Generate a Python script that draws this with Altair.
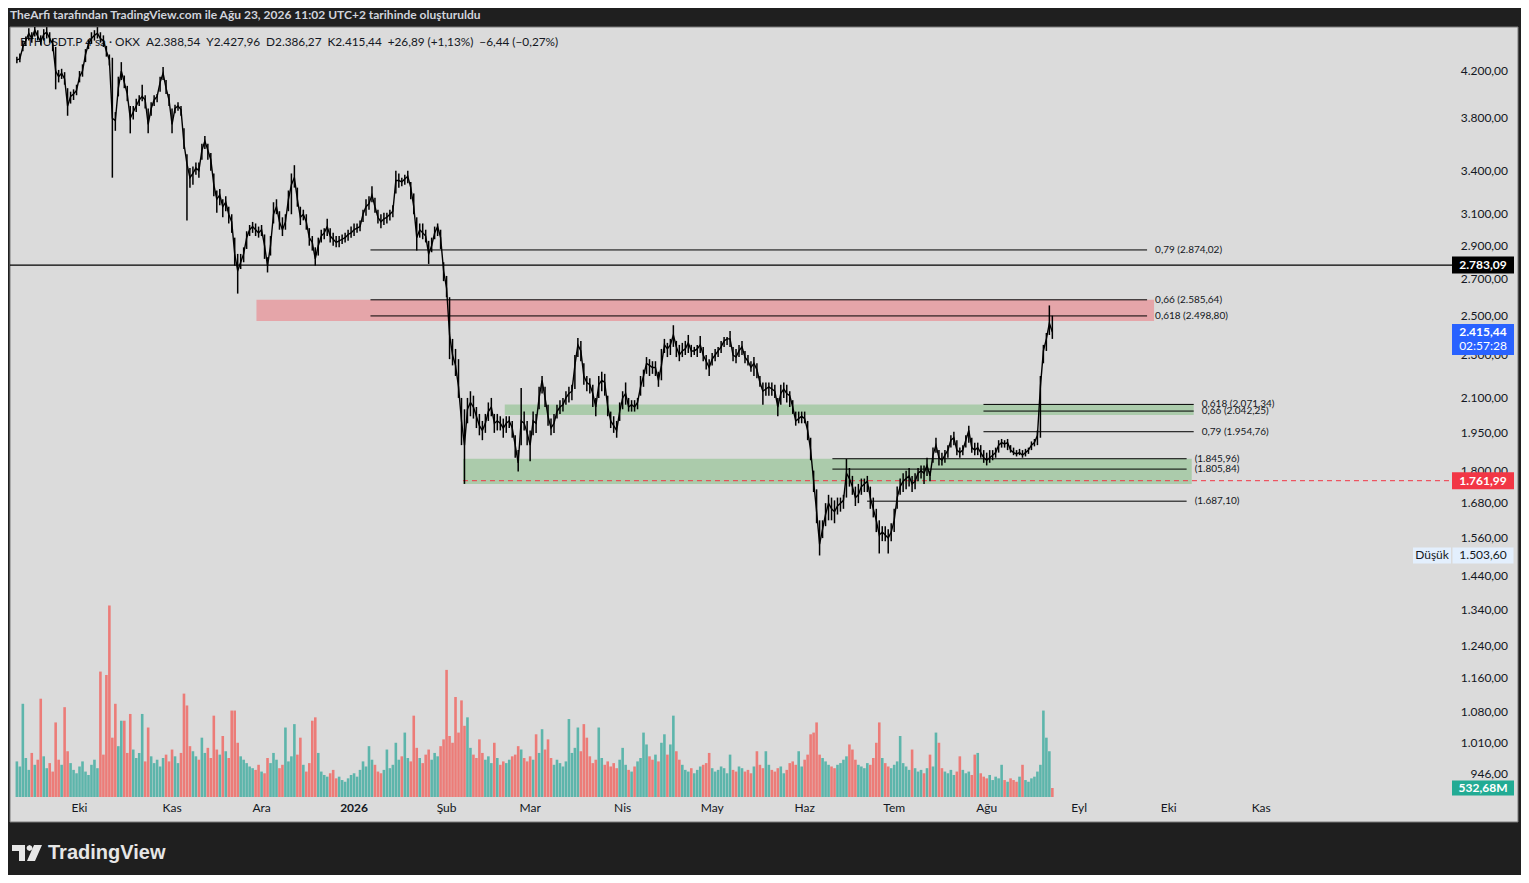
import altair as alt
import pandas as pd

# ---------------- data (daily) ----------------
START = "2025-09-10"

close = [
    4300, 4310, 4420, 4480, 4550, 4500, 4580, 4520, 4470, 4540,
    4560, 4500, 4450, 4200, 4150, 4180, 4130, 3900, 3980, 4000,
    4030, 4150, 4200, 4350, 4450, 4500, 4530, 4550, 4500, 4480,
    4380, 4300, 3800, 3780, 4050, 4200, 4100, 4000, 3800, 3850,
    3900, 3950, 3980, 3950, 3750, 3880, 3950, 3980, 4100, 4180,
    4050, 3950, 3750, 3880, 3900, 3870, 3600, 3450, 3350, 3380,
    3420, 3400, 3550, 3620, 3550, 3480, 3300, 3200, 3230, 3150,
    3180, 3100, 3050, 2850, 2750, 2800, 2850, 2950, 3000, 3020,
    3000, 2980, 3000, 2900, 2780, 2900, 3100, 3150, 3050, 3000,
    3050, 3200, 3300, 3350, 3200, 3080, 3100, 3050, 2950, 2920,
    2820, 2900, 2960, 2980, 3020, 2960, 2940, 2920, 2930, 2940,
    2950, 2970, 2980, 3000, 3010, 3020, 3100, 3150, 3170, 3230,
    3150, 3080, 3050, 3070, 3080, 3100, 3120, 3330, 3330, 3320,
    3340, 3360, 3280, 3150, 2950, 3000, 2980, 2960, 2850, 2900,
    2980, 3020, 2950, 2750, 2650, 2400, 2300, 2250, 2150, 2000,
    1900, 2050, 2080, 2060, 2020, 1980, 1960, 1990, 2040, 2060,
    1990, 2000, 1990, 1970, 1990, 2000, 1970, 1900, 1830, 2000,
    1990, 1950, 1900, 2000, 1990, 2100, 2180, 2100, 2020, 1970,
    1990, 2040, 2060, 2070, 2100, 2120, 2130, 2250, 2350, 2320,
    2200, 2170, 2160, 2120, 2060, 2160, 2180, 2170, 2060, 2000,
    1980, 1960, 2040, 2100, 2120, 2060, 2070, 2060, 2080, 2150,
    2200, 2260, 2250, 2240, 2240, 2180, 2250, 2350, 2330, 2350,
    2400, 2340, 2300, 2320, 2330, 2360, 2320, 2320, 2330, 2350,
    2300, 2270, 2240, 2280, 2300, 2320, 2340, 2370, 2380, 2380,
    2300, 2290, 2320, 2340, 2290, 2270, 2240, 2260, 2230, 2170,
    2130, 2140, 2150, 2140, 2130, 2060, 2120, 2140, 2120, 2110,
    2060, 2000, 2010, 2020, 2010, 1960, 1880, 1760, 1650, 1540,
    1590, 1640, 1680, 1660, 1650, 1670, 1680, 1690, 1790, 1770,
    1740, 1700, 1710, 1740, 1750, 1760, 1700, 1660, 1620, 1570,
    1580, 1570, 1560, 1580, 1620, 1700, 1740, 1760, 1770, 1780,
    1750, 1760, 1790, 1800, 1790, 1820, 1780, 1860, 1900, 1850,
    1840, 1860, 1880, 1920, 1930, 1880, 1870, 1880, 1920, 1960,
    1890, 1880, 1890, 1870, 1850, 1840, 1850, 1860, 1870, 1900,
    1910, 1905, 1910, 1880, 1870, 1865, 1870, 1860, 1870, 1880,
    1900, 1910, 1940, 2150, 2320, 2380, 2460, 2415.44,
]

high = [
    4330, 4360, 4480, 4520, 4600, 4560, 4610, 4580, 4530, 4590,
    4610, 4560, 4500, 4420, 4210, 4220, 4190, 4050, 4020, 4040,
    4080, 4200, 4260, 4400, 4490, 4560, 4580, 4610, 4560, 4530,
    4430, 4350, 4320, 3850, 4150, 4280, 4160, 4070, 3900, 3900,
    3960, 3990, 4080, 3990, 3880, 3930, 3990, 4000, 4150, 4235,
    4120, 4000, 3880, 3910, 3930, 3900, 3720, 3520, 3420, 3430,
    3460, 3460, 3600, 3660, 3600, 3530, 3380, 3260, 3270, 3200,
    3220, 3150, 3100, 2950, 2850, 2850, 2890, 2990, 3030, 3050,
    3040, 3020, 3030, 2970, 2830, 2960, 3180, 3200, 3120, 3080,
    3100, 3260, 3380, 3440, 3280, 3150, 3130, 3100, 3010, 2960,
    2890, 2950, 3000, 3010, 3070, 3010, 2980, 2960, 2960, 2970,
    2980, 3000, 3020, 3040, 3040, 3060, 3130, 3200, 3220, 3290,
    3210, 3130, 3100, 3110, 3110, 3130, 3160, 3400, 3380, 3350,
    3370, 3400, 3320, 3240, 3080, 3040, 3040, 3000, 2930, 2950,
    3020, 3040, 3000, 2800, 2720, 2600, 2380, 2330, 2280, 2100,
    2050, 2100, 2130, 2110, 2060, 2030, 2000, 2030, 2080, 2100,
    2030, 2030, 2020, 2010, 2020, 2020, 2000, 1940, 1880, 2145,
    2040, 2000, 1960, 2040, 2030, 2150, 2200, 2150, 2070, 2010,
    2030, 2070, 2090, 2100, 2130, 2150, 2160, 2300, 2385, 2370,
    2260, 2200, 2190, 2160, 2100, 2200, 2220, 2210, 2110, 2040,
    2020, 2000, 2080, 2130, 2170, 2100, 2090, 2090, 2100, 2200,
    2230, 2290, 2280, 2270, 2270, 2220, 2330, 2380, 2360, 2380,
    2450, 2370, 2350, 2360, 2370, 2400, 2350, 2340, 2350, 2395,
    2340, 2300, 2280, 2310, 2330, 2340, 2370, 2390, 2390, 2420,
    2340, 2330, 2350, 2370, 2320, 2300, 2270, 2290, 2260, 2200,
    2170, 2170, 2170, 2170, 2160, 2100, 2160, 2170, 2160, 2130,
    2090, 2040, 2040, 2040, 2040, 2000, 1930, 1800, 1730, 1620,
    1620, 1680, 1710, 1700, 1690, 1700, 1700, 1710, 1845, 1810,
    1780, 1740, 1750, 1770, 1770, 1780, 1740, 1700, 1660, 1620,
    1600, 1600, 1590, 1610, 1660, 1740, 1770, 1790, 1800, 1810,
    1780, 1790, 1810, 1820, 1820, 1850, 1800, 1890, 1930, 1880,
    1870, 1880, 1900, 1940, 1955, 1920, 1890, 1900, 1940, 1980,
    1930, 1910, 1910, 1900, 1880, 1870, 1880, 1880, 1890, 1920,
    1925, 1920, 1925, 1900, 1890, 1880, 1885, 1880, 1885, 1890,
    1915, 1925, 1960, 2200, 2350, 2410, 2555, 2500,
]

low = [
    4270, 4280, 4380, 4430, 4480, 4460, 4520, 4480, 4440, 4480,
    4500, 4460, 4380, 4040, 4100, 4130, 4080, 3820, 3920, 3950,
    3990, 4100, 4150, 4280, 4400, 4450, 4480, 4500, 4460, 4420,
    4330, 4250, 3350, 3700, 3980, 4120, 4050, 3940, 3680, 3790,
    3850, 3900, 3940, 3880, 3680, 3820, 3900, 3930, 4020, 4120,
    4000, 3900, 3680, 3840, 3860, 3820, 3560, 3060, 3280, 3300,
    3370, 3350, 3480, 3560, 3480, 3400, 3220, 3110, 3160, 3080,
    3120, 3040, 2980, 2780, 2620, 2760, 2800, 2880, 2960, 2980,
    2960, 2950, 2960, 2820, 2740, 2840, 3040, 3100, 3000, 2960,
    3000, 3120, 3100, 3280, 3150, 3030, 3060, 3000, 2900, 2870,
    2780, 2840, 2920, 2940, 2960, 2920, 2900, 2890, 2890, 2910,
    2920, 2930, 2950, 2960, 2980, 2990, 3050, 3090, 3130, 3180,
    3110, 3040, 3010, 3030, 3040, 3060, 3080, 3240, 3280, 3290,
    3300, 3310, 3200, 3100, 2870, 2950, 2940, 2920, 2790, 2860,
    2940, 2960, 2880, 2690, 2600, 2280, 2250, 2200, 2100, 1900,
    1750, 1990, 2020, 2010, 1970, 1940, 1920, 1950, 2000, 2020,
    1950, 1960, 1960, 1930, 1950, 1970, 1930, 1850, 1797, 1900,
    1960, 1900, 1836, 1940, 1950, 2050, 2120, 2060, 1980, 1940,
    1950, 2010, 2030, 2040, 2070, 2080, 2090, 2140, 2290, 2270,
    2160, 2130, 2120, 2060, 2020, 2100, 2130, 2110, 2020, 1970,
    1950, 1930, 2000, 2050, 2070, 2040, 2040, 2040, 2050, 2110,
    2150, 2210, 2200, 2210, 2200, 2150, 2180, 2310, 2290, 2300,
    2340, 2290, 2270, 2290, 2300, 2310, 2290, 2300, 2290, 2310,
    2270, 2230, 2200, 2250, 2270, 2290, 2310, 2340, 2350, 2340,
    2270, 2260, 2290, 2300, 2260, 2250, 2220, 2200, 2190, 2150,
    2070, 2110, 2110, 2110, 2100, 2020, 2070, 2100, 2080, 2060,
    2030, 1980, 1990, 1990, 1990, 1920, 1840, 1720, 1610, 1503.6,
    1560, 1600, 1620, 1620, 1610, 1640, 1650, 1660, 1700, 1740,
    1710, 1670, 1680, 1710, 1720, 1720, 1660, 1630, 1580, 1510,
    1550, 1550, 1510, 1550, 1580, 1660, 1710, 1720, 1730, 1740,
    1720, 1730, 1760, 1770, 1750, 1780, 1760, 1830, 1870, 1820,
    1820, 1830, 1850, 1890, 1900, 1860, 1850, 1860, 1890, 1910,
    1870, 1860, 1860, 1850, 1830, 1820, 1830, 1840, 1850, 1870,
    1890, 1890, 1880, 1870, 1860, 1855, 1860, 1850, 1855, 1865,
    1880, 1895, 1900, 1930, 2260, 2320, 2400, 2380,
]

volume = [  # millions USDT
    2100, 1800, 5500, 2300, 1600, 2600, 1900, 2200, 5800, 2400,
    1700, 2000, 1500, 4400, 2200, 1900, 5300, 2700, 2000, 1600,
    1400, 1800, 2100, 1500, 1300, 1900, 2200, 1700, 7400, 2500,
    7200, 11300, 3500, 5500, 3000, 4500, 4500, 2600, 4900, 2800,
    2300, 2600, 4900, 2100, 4100, 2400, 2000, 2200, 1800, 2300,
    2500, 2100, 2800, 2400, 2000, 2600, 6100, 5400, 3000, 2700,
    2400, 2200, 3500, 2600, 2900, 2300, 4800, 2800, 2500, 3600,
    2700, 2300, 5100, 5100, 3200, 2400, 2200, 2000, 1800, 1700,
    1600, 1900, 1500, 1400, 2300, 2000, 2600, 2200, 1700, 1900,
    4100, 2100, 2400, 4300, 2500, 3500, 1900, 1500, 2000, 4500,
    4700, 2600, 1500, 1300, 1200, 1400, 1600, 1100, 1200, 1000,
    900, 1100, 1300, 1400, 1200, 1600, 2100, 1800, 3000, 2200,
    1900, 1500, 1400, 1600, 2800, 1700, 1900, 3200, 2200, 2400,
    3800, 2300, 2100, 4800, 2900, 2300, 2000, 2500, 2800, 2200,
    2600, 2400, 3000, 3400, 7500, 3600, 3200, 5900, 3800, 5700,
    4200, 4700, 2900, 2500, 2300, 3400, 2600, 2200, 2400, 2000,
    3200, 2300, 1900, 2100, 2000, 2200, 2400, 2500, 3000, 2800,
    2300, 2100, 2400, 2200, 3700, 2600, 4000, 2800, 3400, 2300,
    1900, 2200, 2000, 1800, 2100, 4600, 2600, 2900, 4100, 2700,
    4300, 3500, 2400, 2000, 2200, 4100, 2300, 1900, 2100, 1800,
    2000, 1700, 2200, 2900, 1900, 1600, 1500, 1800, 2100, 2300,
    3800, 3100, 2400, 2200, 2500, 2100, 3200, 3700, 2500, 3100,
    4800, 2700, 2200, 1900, 1600, 1500, 1700, 1400, 1600, 1800,
    1900, 2000, 2600, 1700, 1500, 1600, 1800, 1700, 1400, 2500,
    1600, 1500, 1800, 1700, 1500, 1600, 1400, 1800, 2700, 1900,
    1700, 2700, 1900, 1600, 1500, 1700, 1800, 1400, 1600, 2000,
    2100, 1900, 2700, 1800, 2200, 2500, 3700, 3800, 4400, 2500,
    2300, 2100, 1900, 1800, 1700, 1900, 2000, 2200, 2400, 3100,
    2800, 2200, 1900, 1800, 1700, 2000, 1900, 2300, 3200, 4400,
    2300, 2000, 1800, 1700, 1900, 2100, 3600, 2000, 1800, 1600,
    2800, 1700, 1500, 1600, 1400, 1700, 2500, 1800, 3800, 3200,
    1700, 1500, 1400, 1600, 1300, 1500, 2400, 1600, 1400, 1500,
    1300, 2500, 2600, 1400, 1200, 1100, 1300, 1000, 1200, 1100,
    1900, 1000, 900, 1100, 1000, 900, 1200, 1900, 1000, 900,
    1100, 1200, 1500, 1900, 5100, 3500, 2700, 532.68,
]

# axis ticks
price_ticks = [4200, 3800, 3400, 3100, 2900, 2700, 2500, 2300, 2100, 1950, 1800,
               1680, 1560, 1440, 1340, 1240, 1160, 1080, 1010, 946]
month_ticks = ["2025-10-01T00:00", "2025-11-01T00:00", "2025-12-01T00:00", "2026-01-01T00:00",
               "2026-02-01T00:00", "2026-03-01T00:00", "2026-04-01T00:00", "2026-05-01T00:00",
               "2026-06-01T00:00", "2026-07-01T00:00", "2026-08-01T00:00", "2026-09-01T00:00",
               "2026-10-01T00:00", "2026-11-01T00:00"]
month_names = ["Eki", "Kas", "Ara", "2026", "Şub", "Mar", "Nis", "May", "Haz", "Tem",
               "Ağu", "Eyl", "Eki", "Kas"]

# drawn levels (Fibonacci / price lines)
level_label = ["0,79 (2.874,02)", "0,66 (2.585,64)", "0,618 (2.498,80)",
               "0,618 (2.071,34)", "0,66 (2.042,25)", "0,79 (1.954,76)",
               "(1.845,96)", "(1.805,84)", "(1.687,10)"]
level_price = [2874.02, 2585.64, 2498.80, 2071.34, 2042.25, 1954.76,
               1845.96, 1805.84, 1687.10]
level_start = ["2026-01-06T12:00"] * 3 + ["2026-07-30T22:00"] * 3 + \
              ["2026-06-10T07:00", "2026-06-10T07:00", "2026-06-21T22:00"]
level_end = ["2026-09-23T18:00"] * 3 + ["2026-10-09T09:00"] * 3 + ["2026-10-07T00:00"] * 3

# zones
zone_kind = ["red", "green", "green"]
zone_start = ["2025-11-29T07:00", "2026-02-20T12:00", "2026-02-06T12:00"]
zone_end = ["2026-09-26T02:00", "2026-10-09T09:00", "2026-10-08T17:00"]
zone_top = [2585.64, 2071.34, 1845.96]
zone_bottom = [2472, 2025, 1750]

hline_price = 2783.09
stop_price = 1761.99
stop_start = "2026-02-06T12:00"
last_price = 2415.44
low_price = 1503.60
last_volume = 532.68

# ---------------- frames ----------------
n = min(len(close), len(high), len(low), len(volume))
dates = pd.date_range(START, periods=n, freq="D").strftime("%Y-%m-%dT%H:%M").tolist()
prev = [close[0]] + close[:n - 1]
direction = ["up" if c >= p else "down" for c, p in zip(close[:n], prev)]
df = pd.DataFrame({"date": dates, "close": close[:n], "high": high[:n], "low": low[:n],
                   "vol": volume[:n], "dir": direction})
levels = pd.DataFrame({"label": level_label, "price": level_price,
                       "start": level_start, "end": level_end})
zones = pd.DataFrame({"kind": zone_kind, "start": zone_start, "end": zone_end,
                      "top": zone_top, "bottom": zone_bottom})


def tr_num(v):
    s = f"{v:,.2f}"
    return s.replace(",", "_").replace(".", ",").replace("_", ".")


pticks = pd.DataFrame({"price": price_ticks, "label": [tr_num(v) for v in price_ticks]})
mticks = pd.DataFrame({"date": month_ticks, "label": month_names})
one = pd.DataFrame({"a": [0]})

W, H = 1440, 770
FONT = "Lato"
INK = "#131722"

xscale = alt.Scale(domain=[alt.DateTime(year=2025, month=9, date=9, hours=9),
                           alt.DateTime(year=2027, month=1, date=1, hours=14)], nice=False)
yscale = alt.Scale(type="log", domain=[901, 4611], nice=False, zero=False)
vscale = alt.Scale(domain=[0, 45430], nice=False, zero=True)


def X(f):
    return alt.X(f, type="temporal", scale=xscale, axis=None)


def Y(f):
    return alt.Y(f, type="quantitative", scale=yscale, axis=None)


def V(f):
    return alt.Y(f, type="quantitative", scale=vscale, axis=None)


def box_shape(w, up, down):
    h = w / 2.0
    return f"M-1,{-up / h:.3f}L1,{-up / h:.3f}L1,{down / h:.3f}L-1,{down / h:.3f}Z"


# ---------------- background group (panel, volume, frame texts) ----------------
panel = alt.Chart(one).mark_rect(fill="#dbdbdb", stroke="#7a7a7a", strokeWidth=1).encode(
    x=alt.value(0), x2=alt.value(1508), y=alt.value(0), y2=alt.value(795))

header = alt.Chart(one).mark_text(
    text="TheArfi tarafından TradingView.com ile Ağu 23, 2026 11:02 UTC+2 tarihinde oluşturuldu",
    align="left", baseline="middle", font=FONT, fontSize=12, fontWeight="bold", color="#d1d4dc"
).encode(x=alt.value(0), y=alt.value(-12))

logo_icon = alt.Chart(one).mark_point(
    shape="M-1,-0.533L-0.133,-0.533L-0.133,0.533L-0.533,0.533L-0.533,-0.133L-1,-0.133Z"
          "M0.367,-0.333L0.308,-0.192L0.167,-0.133L0.026,-0.192L-0.033,-0.333L0.026,-0.474L0.167,-0.533L0.308,-0.474Z"
          "M0.467,-0.533L1,-0.533L0.533,0.533L0,0.533Z",
    size=900, filled=True, fill="#e6e6e6", strokeWidth=0, opacity=1
).encode(x=alt.value(17), y=alt.value(826))
logo_text = alt.Chart(one).mark_text(
    text="TradingView", align="left", baseline="middle", font="Liberation Sans",
    fontSize=20, fontWeight="bold", color="#e6e6e6"
).encode(x=alt.value(38), y=alt.value(826))

vol_up = alt.Chart(df).transform_filter(alt.datum.dir == "up").mark_bar(
    size=2.6, opacity=1, color="#5db5ab").encode(x=X("date"), y=V("vol"))
vol_down = alt.Chart(df).transform_filter(alt.datum.dir == "down").mark_bar(
    size=2.6, opacity=1, color="#ec7c78").encode(x=X("date"), y=V("vol"))

month_txt = alt.Chart(mticks).transform_filter(alt.datum.label != "2026").mark_text(
    align="center", baseline="middle", font=FONT, fontSize=12, color=INK
).encode(x=X("date"), y=alt.value(781), text="label:N")
year_txt = alt.Chart(mticks).transform_filter(alt.datum.label == "2026").mark_text(
    align="center", baseline="middle", font=FONT, fontSize=12, fontWeight="bold", color=INK
).encode(x=X("date"), y=alt.value(781), text="label:N")

vol_group = alt.layer(panel, header, logo_icon, logo_text, vol_up, vol_down, month_txt, year_txt)

# ---------------- price group ----------------
price_txt = alt.Chart(pticks).mark_text(
    align="right", baseline="middle", font=FONT, fontSize=12, color=INK
).encode(x=alt.value(1498), y=Y("price"), text="label:N")

red_zone = alt.Chart(zones).transform_filter(alt.datum.kind == "red").mark_rect(
    color="#e5a5a9", opacity=1).encode(x=X("start"), x2="end:T", y=Y("top"), y2="bottom:Q")
green_zone = alt.Chart(zones).transform_filter(alt.datum.kind == "green").mark_rect(
    color="#abcbab", opacity=1).encode(x=X("start"), x2="end:T", y=Y("top"), y2="bottom:Q")

level_rules = alt.Chart(levels).mark_rule(color="black", strokeWidth=1).encode(
    x=X("start"), x2="end:T", y=Y("price"))
level_text = alt.Chart(levels).mark_text(
    align="left", baseline="middle", dx=8, font=FONT, fontSize=10, color=INK
).encode(x=X("end"), y=Y("price"), text="label:N")

hl = pd.DataFrame({"price": [hline_price]})
hline = alt.Chart(hl).mark_rule(color="black", strokeWidth=1.2).encode(
    x=alt.value(0), x2=alt.value(1442), y=Y("price"))

stop = pd.DataFrame({"price": [stop_price], "start": [stop_start]})
stop_line = alt.Chart(stop).mark_rule(color="#f23645", strokeWidth=1, strokeDash=[5, 4]).encode(
    x=X("start"), x2=alt.value(1442), y=Y("price"))

wicks = alt.Chart(df).mark_rule(color="black", strokeWidth=1.5).encode(
    x=X("date"), y=Y("low"), y2="high:Q")
price_line = alt.Chart(df).mark_line(color="black", strokeWidth=1.4).encode(
    x=X("date"), y=Y("close"))

legend = alt.Chart(one).mark_text(
    text="ETHUSDT.P 4 sa · OKX\u2002A2.388,54\u2002Y2.427,96\u2002D2.386,27\u2002K2.415,44\u2002+26,89 (+1,13%)\u2002\u22126,44 (\u22120,27%)",
    align="left", baseline="middle", font=FONT, fontSize=11.8, color=INK
).encode(x=alt.value(10), y=alt.value(15))


def axis_box(price, text, fill, txtcolor, up=8.5, down=8.5, w=62, xc=1473, bold=True):
    d = pd.DataFrame({"price": [price]})
    b = alt.Chart(d).mark_point(shape=box_shape(w, up, down), size=w * w, filled=True,
                                fill=fill, strokeWidth=0, opacity=1).encode(x=alt.value(xc), y=Y("price"))
    t = alt.Chart(d).mark_text(text=text, align="center", baseline="middle", font=FONT, fontSize=12,
                               fontWeight="bold" if bold else "normal", color=txtcolor
                               ).encode(x=alt.value(xc), y=Y("price"))
    return [b, t]


boxes = []
boxes += axis_box(hline_price, "2.783,09", "#000000", "white")
boxes += axis_box(stop_price, "1.761,99", "#f23645", "white")
boxes += axis_box(last_price, "2.415,44", "#2962ff", "white", up=8, down=23)
lp = pd.DataFrame({"price": [last_price]})
boxes.append(alt.Chart(lp).mark_text(text="02:57:28", align="center", baseline="middle", dy=14,
                                     font=FONT, fontSize=12, color="white").encode(
    x=alt.value(1473), y=Y("price")))
boxes += axis_box(low_price, "1.503,60", "#e3effd", INK, up=8, down=8, w=61, bold=False)
boxes += axis_box(low_price, "Düşük", "#e3effd", INK, up=8, down=8, w=38, xc=1422, bold=False)

price_group = alt.layer(price_txt, red_zone, green_zone, level_rules, level_text, hline,
                        stop_line, legend, wicks, price_line, *boxes)

# ---------------- volume last-value tag ----------------
vol_last = pd.DataFrame({"vol": [last_volume]})
vol_box = alt.Chart(vol_last).mark_point(
    shape=box_shape(62, 7.5, 7.5), size=62 * 62, filled=True, fill="#22ab94", strokeWidth=0, opacity=1
).encode(x=alt.value(1473), y=V("vol"))
vol_txt = alt.Chart(vol_last).mark_text(
    text="532,68M", align="center", baseline="middle", font=FONT, fontSize=12,
    fontWeight="bold", color="white"
).encode(x=alt.value(1473), y=V("vol"))
vol_labels = alt.layer(vol_box, vol_txt)

chart = alt.layer(vol_group, price_group, vol_labels).resolve_scale(y="independent").properties(
    width=W, height=H,
    padding={"left": 2, "top": 19, "right": 71, "bottom": 78},
    autosize=alt.AutoSizeParams(type="none"),
    background="#1f1f1f",
).configure_view(stroke=None)

chart.save("out.html", embed_options={"renderer": "svg", "actions": False})
